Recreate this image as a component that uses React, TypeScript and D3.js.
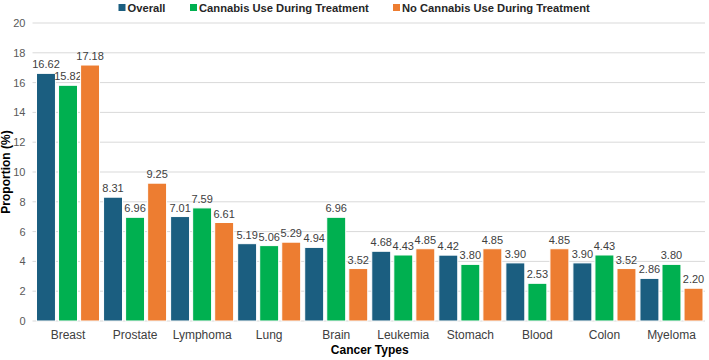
import React, { useEffect, useRef } from "react";
import { select, scaleBand, scaleLinear, axisLeft, range } from "d3";

const categories = [
  "Breast",
  "Prostate",
  "Lymphoma",
  "Lung",
  "Brain",
  "Leukemia",
  "Stomach",
  "Blood",
  "Colon",
  "Myeloma",
];
const overall = [16.62, 8.31, 7.01, 5.19, 4.94, 4.68, 4.42, 3.9, 3.9, 2.86];
const cannabisUse = [15.82, 6.96, 7.59, 5.06, 6.96, 4.43, 3.8, 2.53, 4.43, 3.8];
const noCannabisUse = [17.18, 9.25, 6.61, 5.29, 3.52, 4.85, 4.85, 4.85, 3.52, 2.2];
const seriesNames = [
  "Overall",
  "Cannabis Use During Treatment",
  "No Cannabis Use During Treatment",
];
const yTicks = [0, 2, 4, 6, 8, 10, 12, 14, 16, 18, 20];

const colors = ["#1B5E80", "#00B050", "#ED7D31"];
const W = 709;
const H = 360;
const FONT = "'Liberation Sans', Arial, sans-serif";

export default function App() {
  const svgRef = useRef<SVGSVGElement>(null);

  useEffect(() => {
    if (!svgRef.current) return;
    const svg = select(svgRef.current);
    svg.selectAll("*").remove();

    const margin = { top: 23, right: 4, bottom: 39, left: 34.5 };
    const innerW = W - margin.left - margin.right;
    const innerH = H - margin.top - margin.bottom;

    const g = svg
      .append("g")
      .attr("transform", `translate(${margin.left},${margin.top})`);

    const x = scaleBand<string>()
      .domain(categories)
      .range([0, innerW])
      .paddingInner(0.06)
      .paddingOuter(0.03);
    const sub = scaleBand<number>()
      .domain(range(3))
      .range([0, x.bandwidth()])
      .paddingInner(0.14);
    const y = scaleLinear().domain([0, 20]).range([innerH, 0]);

    // grid
    g.append("g")
      .selectAll("line")
      .data(yTicks)
      .enter()
      .append("line")
      .attr("x1", -2)
      .attr("x2", innerW)
      .attr("y1", (d) => y(d))
      .attr("y2", (d) => y(d))
      .attr("stroke", "#D9D9D9")
      .attr("stroke-width", 1);

    // y axis labels
    const ya = g
      .append("g")
      .call(axisLeft(y).tickValues(yTicks).tickSize(0).tickPadding(9));
    ya.select(".domain").remove();
    ya.selectAll("text")
      .attr("fill", "#595959")
      .style("font-family", FONT)
      .style("font-size", "11px");

    const seriesData = [overall, cannabisUse, noCannabisUse];

    seriesData.forEach((vals, si) => {
      const grp = g.append("g");
      grp
        .selectAll("rect")
        .data(vals)
        .enter()
        .append("rect")
        .attr("x", (_, i) => (x(categories[i]) ?? 0) + (sub(si) ?? 0))
        .attr("y", (d) => y(d))
        .attr("width", sub.bandwidth())
        .attr("height", (d) => innerH - y(d))
        .attr("fill", colors[si])
        .attr("stroke", "#fff")
        .attr("stroke-width", 1);

      grp
        .selectAll("text")
        .data(vals)
        .enter()
        .append("text")
        .attr(
          "x",
          (_, i) =>
            (x(categories[i]) ?? 0) + (sub(si) ?? 0) + sub.bandwidth() / 2
        )
        .attr("y", (d) => y(d) - 5)
        .attr("text-anchor", "middle")
        .attr("fill", "#404040")
        .style("font-family", FONT)
        .style("font-size", "11px")
        .text((d) => d.toFixed(2));
    });

    // x category labels
    g.append("g")
      .selectAll("text")
      .data(categories)
      .enter()
      .append("text")
      .attr("x", (d) => (x(d) ?? 0) + x.bandwidth() / 2)
      .attr("y", innerH + 18)
      .attr("text-anchor", "middle")
      .attr("fill", "#404040")
      .style("font-family", FONT)
      .style("font-size", "12px")
      .text((d) => d);

    // axis titles
    svg
      .append("text")
      .attr("x", margin.left + innerW / 2)
      .attr("y", H - 6)
      .attr("text-anchor", "middle")
      .attr("fill", "#000")
      .style("font-family", FONT)
      .style("font-size", "12px")
      .style("font-weight", "bold")
      .text("Cancer Types");

    svg
      .append("text")
      .attr("transform", `translate(10,${margin.top + innerH / 2}) rotate(-90)`)
      .attr("text-anchor", "middle")
      .attr("fill", "#000")
      .style("font-family", FONT)
      .style("font-size", "12px")
      .style("font-weight", "bold")
      .text("Proportion (%)");

    // legend
    const legendX = [118.5, 190, 393];
    const leg = svg.append("g");
    seriesNames.forEach((name, i) => {
      leg
        .append("rect")
        .attr("x", legendX[i])
        .attr("y", 4)
        .attr("width", 7)
        .attr("height", 7)
        .attr("fill", colors[i]);
      leg
        .append("text")
        .attr("x", legendX[i] + 9)
        .attr("y", 12)
        .attr("fill", "#262626")
        .style("font-family", FONT)
        .style("font-size", "11.2px")
        .style("font-weight", "bold")
        .text(name);
    });
  }, []);

  return (
    <div
      style={{
        position: "absolute",
        left: 0,
        top: 0,
        width: W,
        height: H,
        background: "#fff",
      }}
    >
      <svg ref={svgRef} width={W} height={H} style={{ display: "block" }} />
    </div>
  );
}
